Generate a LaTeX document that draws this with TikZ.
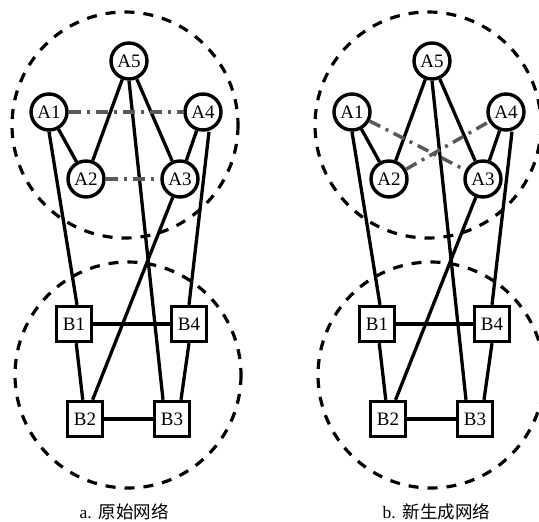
\documentclass[tikz,border=0pt]{standalone}
\usepackage{fontspec}
\setmainfont{Liberation Serif}
\newfontfamily\cjk{Noto Sans CJK SC}
\usepackage{tikz}

\begin{document}
\begin{tikzpicture}[x=1pt, y=-1pt,
        hub/.style={circle, draw, line width=3.4pt, fill=white, minimum size=36pt,
            inner sep=0pt, font=\fontsize{19}{19}\selectfont},
        box/.style={rectangle, draw, line width=3.4pt, fill=white, minimum size=35pt,
            inner sep=0pt, font=\fontsize{19}{19}\selectfont},
        link/.style={line width=3.3pt},
        shadow/.style={line width=3.5pt, black!65, dash pattern=on 12pt off 6pt on 3pt off 6pt},
        zone/.style={line width=3.2pt, dash pattern=on 10pt off 9pt}]
    \useasboundingbox (0,0) rectangle (539,522);
    % two networks side by side, only the grey links differ
    \foreach \p/\dx/\ga/\gb/\gc/\gd/\cap in {a/0/A1/A4/A2/A3/原始网络, b/303/A1/A3/A2/A4/新生成网络}{
        \begin{scope}[xshift=\dx]
            \draw[zone] (125,125) circle[radius=113];
            \draw[zone] (128,375) circle[radius=113];
            \node[hub] (\p-A1) at (49,112) {A1};
            \node[hub] (\p-A2) at (86,179) {A2};
            \node[hub] (\p-A3) at (180,179) {A3};
            \node[hub] (\p-A4) at (203,112) {A4};
            \node[hub] (\p-A5) at (129,61) {A5};
            \node[box] (\p-B1) at (74,324) {B1};
            \node[box] (\p-B2) at (85,419) {B2};
            \node[box] (\p-B3) at (172,419) {B3};
            \node[box] (\p-B4) at (189,324) {B4};
            \node[anchor=west, font=\fontsize{17.5}{17.5}\selectfont] (\p-cap) at (76,512)
                {\p.\hspace{7pt}{\cjk\cap}};
            % links inside each group
            \draw[link] (\p-A1) -- (\p-A2);
            \draw[link] (\p-A5) -- (\p-A2);
            \draw[link] (\p-A5) -- (\p-A3);
            \draw[link] (\p-A4) -- (\p-A3);
            \draw[link] (\p-B1) -- (\p-B4);
            \draw[link] (\p-B2) -- (\p-B3);
            \draw[link] (\p-B1) -- (\p-B2);
            \draw[link] (\p-B4.south) -- ([xshift=9pt]\p-B3.north);
            % links between the groups
            \draw[link] (\p-A1.south) -- ([xshift=3pt]\p-B1.north);
            \draw[link] (\p-A5.south) -- ([xshift=-9pt]\p-B3.north);
            \draw[link] (\p-A3) -- (\p-B2);
            \draw[link] ([xshift=6pt]\p-A4.south) -- (\p-B4.north);
            % grey links
            \draw[shadow] (\p-\ga) -- (\p-\gb);
            \draw[shadow] (\p-\gc) -- (\p-\gd);
        \end{scope}
    }
\end{tikzpicture}
\end{document}
